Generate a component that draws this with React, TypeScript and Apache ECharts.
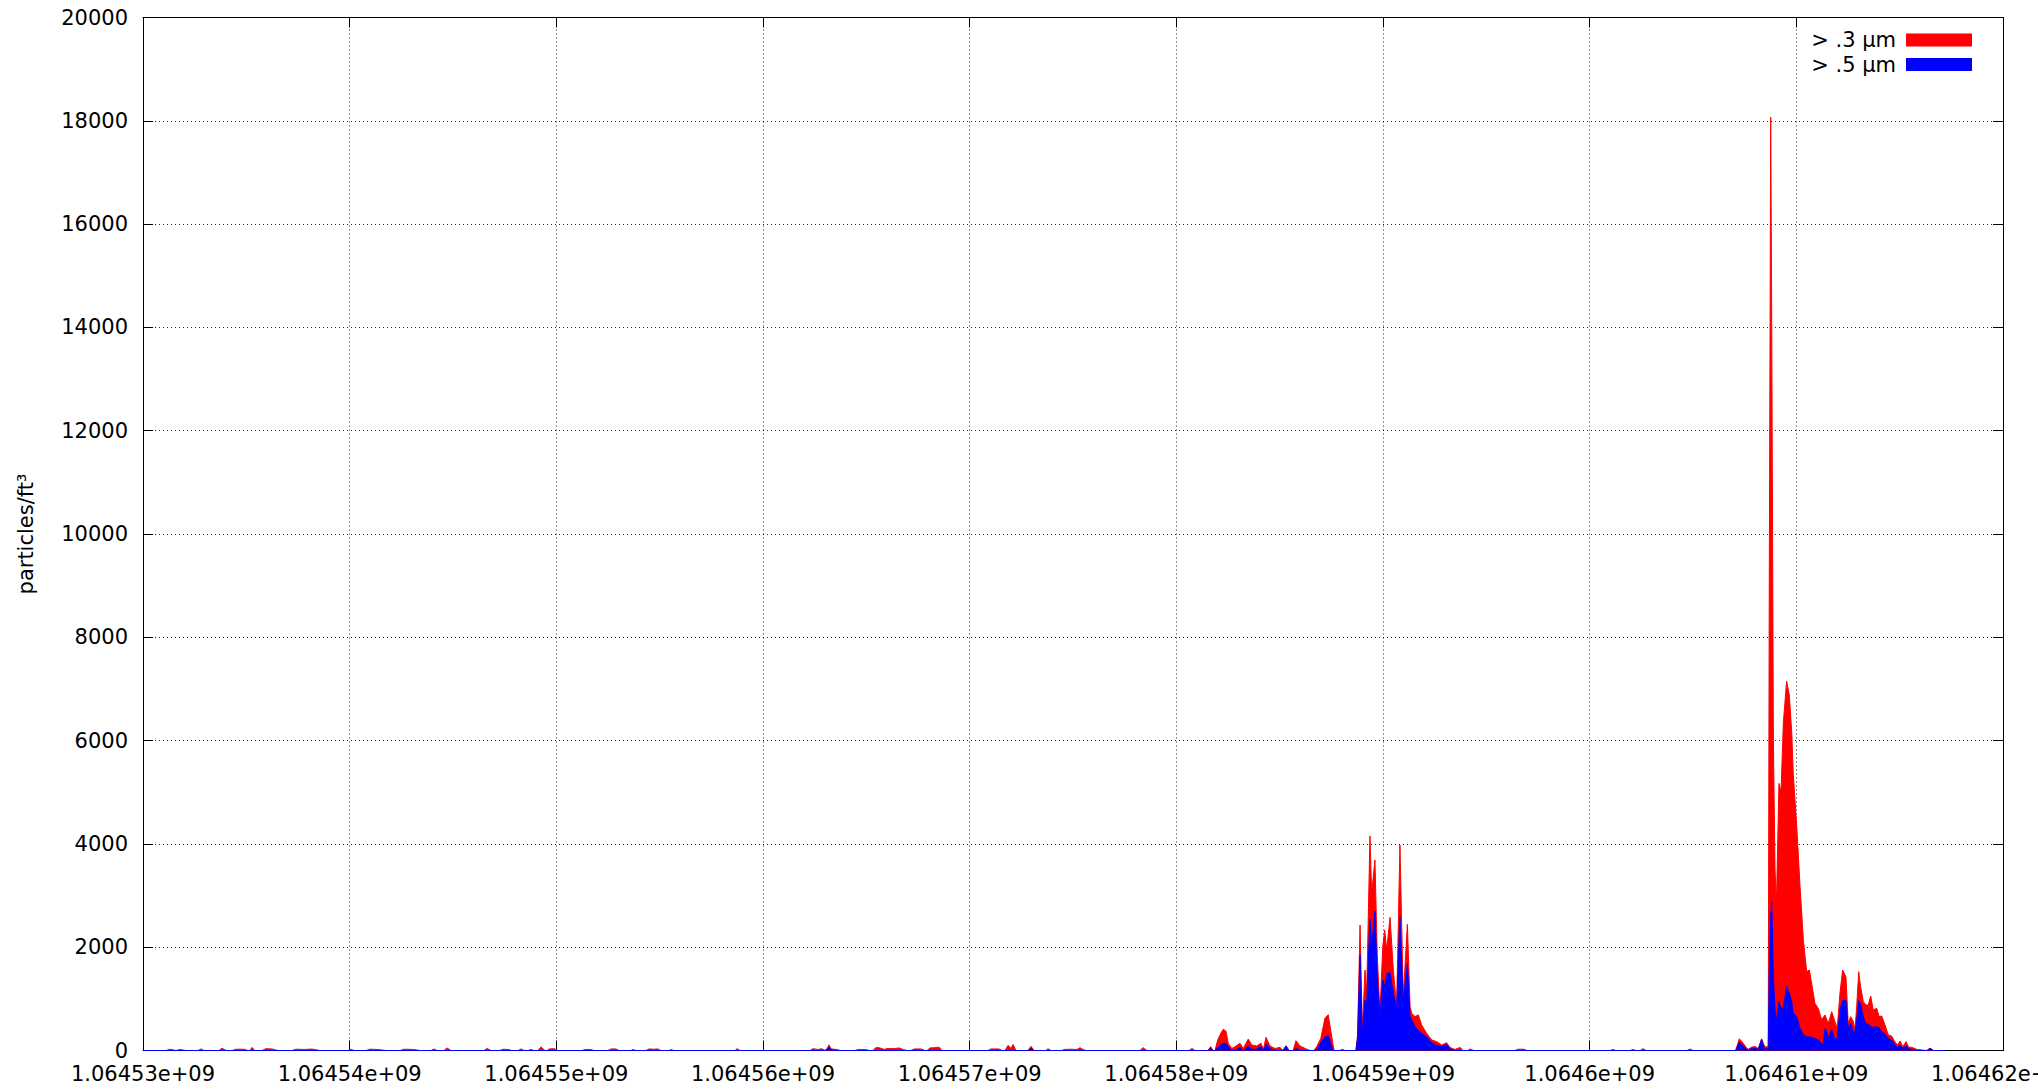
import React, { useEffect, useRef } from "react";
import * as echarts from "echarts";

const T0 = 1064530000;
const X_MIN = 1064530000;
const X_MAX = 1064620000;
const X_STEP = 10000;
const Y_MIN = 0;
const Y_MAX = 20000;
const Y_STEP = 2000;
const SERIES_NAMES = ["> .3 µm", "> .5 µm"];
const Y_TITLE = "particles/ft³";

// seconds after T0
const timeOffsets = [
  0, 1110, 1310, 1600, 1790, 2080, 2660, 2810, 2950, 3680, 3820, 4020, 4310, 4500, 4890, 5080, 5180, 5270, 5420,
  5760, 5950, 6240, 6530, 7210, 7400, 7790, 8180, 8560, 9920, 10060, 10210, 10790, 10980, 11370, 11760, 12440,
  12630, 13110, 13400, 13940, 14080, 14230, 14560, 14710, 14900, 16500, 16650, 16840, 17270, 17420, 17660, 17850,
  18150, 18290, 18440, 18630, 18770, 18920, 19110, 19260, 19450, 19550, 19650, 19890, 20080, 21240, 21390, 21680,
  21820, 22500, 22650, 22890, 23030, 23610, 23710, 23860, 24340, 24480, 24730, 24920, 25060, 25450, 25550, 25690,
  28650, 28740, 28890, 32270, 32420, 32660, 32850, 33000, 33100, 33190, 33290, 33440, 33580, 33730, 34450, 34600,
  34980, 35130, 35320, 35470, 35660, 35860, 36050, 36340, 36580, 36770, 36970, 37160, 37310, 37650, 37840, 37940,
  38080, 38320, 38520, 38660, 40890, 41030, 41420, 41560, 41710, 41860, 42000, 42100, 42240, 42820, 42970, 43110,
  43690, 43790, 43940, 44470, 44560, 44850, 45190, 45340, 45480, 45630, 48240, 48390, 48580, 50610, 50760, 50900,
  51530, 51660, 51770, 51870, 52000, 52150, 52270, 52400, 52510, 52680, 52840, 53080, 53240, 53480, 53650, 53890,
  54100, 54210, 54340, 54530, 54770, 55020, 55160, 55310, 55450, 55650, 55790, 55980, 56230, 56470, 56660, 56790,
  56990, 57190, 57350, 57520, 57630, 57920, 58020, 58160, 58690, 58770, 58890, 59000, 59130, 59210, 59370, 59450,
  59610, 59720, 59850, 59990, 60080, 60180, 60340, 60500, 60660, 60820, 60980, 61180, 61310, 61390, 61550, 61710,
  61870, 62110, 62360, 62600, 62840, 63080, 63240, 63480, 63730, 63870, 64110, 64210, 64400, 66390, 66530, 66820,
  66970, 70980, 71130, 71270, 71950, 72100, 72240, 72440, 72580, 72730, 74710, 74860, 75000, 77060, 77140, 77240,
  77430, 77600, 77680, 77840, 78000, 78160, 78320, 78430, 78530, 78640, 78690, 78760, 78810, 78890, 78970, 79020,
  79050, 79160, 79260, 79370, 79530, 79660, 79780, 79850, 80020, 80180, 80340, 80500, 80630, 80740, 80900, 81060,
  81230, 81300, 81390, 81470, 81550, 81710, 81870, 81980, 82110, 82240, 82400, 82510, 82630, 82760, 82840, 82920,
  83020, 83110, 83240, 83370, 83480, 83600, 83720, 83890, 84010, 84130, 84290, 84450, 84610, 84770, 84890, 85020,
  85150, 85310, 85440, 85580, 85820, 86070, 86320, 86470, 86630, 87200,
];

const red03 = [
  0, 0, 25, 0, 20, 0, 0, 30, 0, 0, 45, 0, 0, 25, 25, 0, 0, 60, 0,
  0, 35, 30, 0, 0, 25, 20, 28, 0, 0, 25, 0, 0, 25, 20, 0, 0,
  25, 20, 0, 0, 30, 0, 0, 50, 0, 0, 40, 0, 0, 25, 20, 0,
  0, 30, 0, 0, 20, 0, 0, 70, 0, 0, 30, 35, 0, 0, 20, 20,
  0, 0, 30, 30, 0, 0, 20, 0, 0, 30, 25, 30, 0, 0, 20, 0,
  0, 35, 0, 0, 35, 20, 35, 0, 30, 110, 30, 25, 20, 0, 0, 20,
  20, 0, 0, 60, 50, 20, 40, 35, 50, 20, 0, 0, 30, 30, 0, 0,
  50, 55, 65, 0, 0, 30, 30, 0, 0, 100, 40, 115, 0, 0, 80, 0,
  0, 35, 0, 0, 20, 25, 20, 55, 20, 0, 0, 55, 0, 0, 40, 0,
  0, 74, 0, 0, 203, 333, 410, 377, 140, 40, 74, 140, 40, 222, 106, 88,
  140, 20, 255, 88, 40, 60, 0, 93, 0, 0, 190, 88, 40, 0, 0, 74,
  235, 623, 693, 267, 0, 0, 25, 0, 0, 300, 2430, 400, 1558, 1107, 4153, 3043,
  3688, 1882, 720, 2010, 2333, 1946, 2578, 1558, 848, 3978, 1042, 2443, 848, 720, 655, 690,
  494, 333, 203, 171, 107, 150, 60, 20, 60, 0, 0, 30, 0, 0, 25, 25,
  0, 0, 20, 0, 0, 20, 0, 0, 35, 0, 0, 30, 0, 0, 100, 226,
  142, 45, 25, 65, 77, 39, 226, 110, 65, 77, 9000, 18070, 14000, 6000, 3500, 2978,
  3100, 5171, 5010, 6334, 7153, 6882, 6140, 5366, 4333, 3172, 2139, 1526, 1558, 1300, 913, 816,
  590, 640, 687, 600, 526, 752, 558, 429, 1107, 1558, 1429, 526, 655, 560, 397, 849,
  1526, 1236, 945, 881, 881, 1055, 784, 816, 655, 668, 494, 300, 281, 171, 107, 184,
  74, 171, 61, 61, 23, 10, 0, 48, 0, 0,
];

const blue05 = [
  0, 0, 0, 0, 0, 0, 0, 0, 0, 0, 0, 0, 0, 0, 0, 0, 0, 0, 0,
  0, 0, 0, 0, 0, 0, 0, 0, 0, 0, 0, 0, 0, 0, 0, 0, 0,
  0, 0, 0, 0, 0, 0, 0, 0, 0, 0, 0, 0, 0, 0, 0, 0,
  0, 0, 0, 0, 0, 0, 0, 0, 0, 0, 0, 0, 0, 0, 0, 0,
  0, 0, 0, 0, 0, 0, 0, 0, 0, 0, 0, 0, 0, 0, 0, 0,
  0, 0, 0, 0, 0, 0, 0, 0, 30, 70, 20, 0, 0, 0, 0, 0,
  0, 0, 0, 0, 0, 0, 0, 0, 0, 0, 0, 0, 0, 0, 0, 0,
  0, 0, 0, 0, 0, 0, 0, 0, 0, 0, 0, 0, 0, 0, 40, 0,
  0, 0, 0, 0, 0, 0, 0, 0, 0, 0, 0, 0, 0, 0, 0, 0,
  0, 55, 0, 0, 55, 106, 140, 140, 74, 0, 0, 55, 0, 88, 20, 30,
  74, 0, 120, 40, 0, 0, 0, 88, 0, 0, 40, 0, 0, 0, 0, 20,
  150, 267, 280, 74, 0, 0, 0, 0, 0, 250, 1849, 300, 977, 916, 2540, 2010,
  2700, 1429, 687, 1365, 1236, 1494, 1507, 1107, 817, 2590, 945, 1688, 655, 590, 461, 397,
  333, 268, 150, 100, 75, 120, 30, 0, 0, 0, 0, 0, 0, 0, 0, 0,
  0, 0, 0, 0, 0, 0, 0, 0, 0, 0, 0, 0, 0, 0, 60, 161,
  90, 20, 10, 45, 40, 20, 219, 45, 30, 35, 1500, 2600, 2881, 1400, 784, 650,
  623, 945, 816, 849, 1236, 1107, 945, 720, 655, 429, 300, 268, 268, 250, 236, 203,
  139, 107, 429, 365, 236, 410, 203, 236, 784, 977, 965, 429, 526, 365, 350, 590,
  965, 900, 650, 513, 513, 461, 450, 461, 440, 365, 319, 236, 203, 107, 61, 107,
  42, 87, 35, 20, 0, 0, 0, 42, 0, 0,
];

const FONT = "DejaVu Sans";

function gnuplotG(v: number): string {
  const s = v.toExponential(5);
  const parts = s.split("e");
  let m = parts[0];
  if (m.indexOf(".") >= 0) m = m.replace(/0+$/, "").replace(/\.$/, "");
  const sign = parts[1][0];
  let d = parts[1].slice(1);
  if (d.length < 2) d = "0" + d;
  return m + "e" + sign + d;
}

export default function App() {
  const ref = useRef<HTMLDivElement>(null);
  useEffect(() => {
    if (!ref.current) return;
    const chart = echarts.init(ref.current, undefined, { renderer: "svg" });
    const redData = timeOffsets.map((o, i) => [T0 + o, red03[i]]);
    const blueData = timeOffsets.map((o, i) => [T0 + o, blue05[i]]);
    const labelStyle = { fontSize: 21, color: "#000", fontFamily: FONT };
    const grid = { type: [1, 3] as any, color: "#000", width: 1, opacity: 0.85 };
    chart.setOption({
      animation: false,
      backgroundColor: "#fff",
      textStyle: { fontFamily: FONT },
      grid: {
        left: 143,
        right: 35,
        top: 17.5,
        bottom: 40.5,
        containLabel: false,
        outerBoundsMode: "none",
      },
      legend: {
        orient: "vertical",
        right: 61,
        top: 23,
        align: "right",
        icon: "rect",
        itemWidth: 66,
        itemHeight: 13,
        itemGap: 0.5,
        data: SERIES_NAMES,
        textStyle: { fontSize: 21, lineHeight: 24, color: "#000", fontFamily: FONT, padding: [0, 5, 0, 0] },
        selectedMode: false,
      },
      xAxis: [
        {
          type: "value",
          min: X_MIN,
          max: X_MAX,
          interval: X_STEP,
          position: "bottom",
          axisLine: { show: true, onZero: false, lineStyle: { color: "#000", width: 1 } },
          axisTick: { show: true, inside: true, length: 10, lineStyle: { color: "#000" } },
          axisLabel: { ...labelStyle, margin: 13, hideOverlap: false, formatter: (v: number) => gnuplotG(v) },
          splitLine: { show: true, lineStyle: grid },
        },
        {
          type: "value",
          min: X_MIN,
          max: X_MAX,
          interval: X_STEP,
          position: "top",
          axisLine: { show: true, onZero: false, lineStyle: { color: "#000", width: 1 } },
          axisTick: { show: true, inside: true, length: 10, lineStyle: { color: "#000" } },
          axisLabel: { show: false },
          splitLine: { show: false },
        },
      ],
      yAxis: [
        {
          type: "value",
          min: Y_MIN,
          max: Y_MAX,
          interval: Y_STEP,
          position: "left",
          name: Y_TITLE,
          nameLocation: "middle",
          nameGap: 107,
          nameTextStyle: { fontSize: 21, color: "#000", fontFamily: FONT },
          axisLine: { show: true, onZero: false, lineStyle: { color: "#000", width: 1 } },
          axisTick: { show: true, inside: true, length: 10, lineStyle: { color: "#000" } },
          axisLabel: { ...labelStyle, margin: 15, formatter: (v: number) => String(v) },
          splitLine: { show: true, lineStyle: grid },
        },
        {
          type: "value",
          min: Y_MIN,
          max: Y_MAX,
          interval: Y_STEP,
          position: "right",
          axisLine: { show: true, onZero: false, lineStyle: { color: "#000", width: 1 } },
          axisTick: { show: true, inside: true, length: 10, lineStyle: { color: "#000" } },
          axisLabel: { show: false },
          splitLine: { show: false },
        },
      ],
      series: [
        {
          name: SERIES_NAMES[0],
          type: "line",
          data: redData,
          showSymbol: false,
          symbol: "none",
          color: "#ff0000",
          itemStyle: { color: "#ff0000" },
          lineStyle: { color: "#ff0000", width: 1 },
          areaStyle: { color: "#ff0000", opacity: 1, origin: "start" },
          xAxisIndex: 0,
          yAxisIndex: 0,
        },
        {
          name: SERIES_NAMES[1],
          type: "line",
          data: blueData,
          showSymbol: false,
          symbol: "none",
          color: "#0000ff",
          itemStyle: { color: "#0000ff" },
          lineStyle: { color: "#0000ff", width: 1 },
          areaStyle: { color: "#0000ff", opacity: 1, origin: "start" },
          xAxisIndex: 0,
          yAxisIndex: 0,
        },
      ],
    });
    return () => chart.dispose();
  }, []);
  return (
    <div
      ref={ref}
      style={{ position: "fixed", left: 0, top: 0, width: 2038, height: 1091, background: "#fff" }}
    />
  );
}
